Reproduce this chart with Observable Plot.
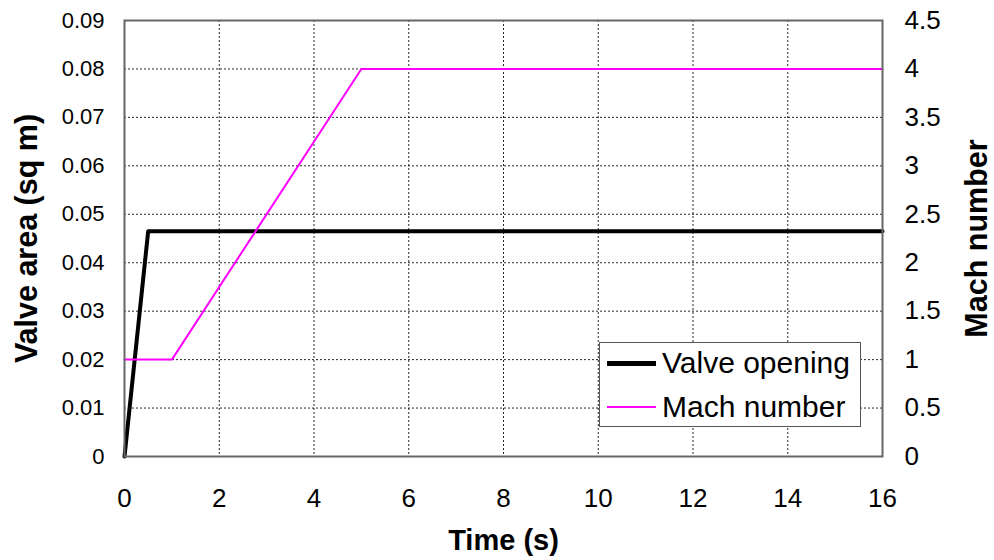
<!DOCTYPE html>
<html>
<head>
<meta charset="utf-8">
<script src="https://cdn.jsdelivr.net/npm/d3@7"></script>
<script src="https://cdn.jsdelivr.net/npm/@observablehq/plot@0.6"></script>
<style>
  body { margin: 0; background: #fff; }
  #wrap { position: relative; width: 994px; height: 560px; font-family: "Liberation Sans", Arial, sans-serif; }
  #legend { position: absolute; left: 599px; top: 342px; width: 262px; height: 85px; border: 1.5px solid #555; background: #fff; box-sizing: border-box; }
  .item { position: absolute; left: 7px; height: 34px; line-height: 34px; display: flex; align-items: center; font-size: 30px; color: #000; white-space: nowrap; }
  .sw { width: 49px; margin-right: 6px; }
</style>
</head>
<body>
<div id="wrap"></div>
<script>
const valveTime = [0, 0.5, 16];
const valveArea = [0, 0.0465, 0.0465];
const machTime = [0, 1, 5, 16];
const machNumber = [1, 1, 4, 4];
const xTicks = [0, 2, 4, 6, 8, 10, 12, 14, 16];
const yTicks = [0, 0.01, 0.02, 0.03, 0.04, 0.05, 0.06, 0.07, 0.08, 0.09];
const yTickLabels = ["0", "0.01", "0.02", "0.03", "0.04", "0.05", "0.06", "0.07", "0.08", "0.09"];
const machTicks = [0, 0.5, 1, 1.5, 2, 2.5, 3, 3.5, 4, 4.5];
const machScale = 0.02; // Mach 4.5 on right axis = 0.09 on left axis

const valve = valveTime.map((t, i) => ({t, v: valveArea[i]}));
const mach = machTime.map((t, i) => ({t, v: machNumber[i] * machScale}));

const chart = Plot.plot({
  width: 994,
  height: 560,
  marginLeft: 124,
  marginRight: 112,
  marginTop: 20,
  marginBottom: 104,
  style: {fontFamily: "'Liberation Sans', Arial, sans-serif", fontSize: "20px", color: "#000", background: "#fff"},
  x: {domain: [0, 16], axis: null},
  y: {domain: [0, 0.09], axis: null},
  marks: [
    Plot.gridX(xTicks, {stroke: "#000", strokeOpacity: 0.85, strokeDasharray: "2,2"}),
    Plot.gridY(yTicks, {stroke: "#000", strokeOpacity: 0.85, strokeDasharray: "2,2"}),
    // tick labels drawn through the scales
    Plot.text(xTicks, {x: d => d, text: d => String(d), frameAnchor: "bottom", dy: 42, fontSize: 26, lineAnchor: "middle", textAnchor: "middle"}),
    Plot.text(yTicks, {y: d => d, text: (d, i) => yTickLabels[i], frameAnchor: "left", dx: -20, fontSize: 22, textAnchor: "end", lineAnchor: "middle"}),
    Plot.text(machTicks, {y: d => d * machScale, text: d => String(d), frameAnchor: "right", dx: 22, fontSize: 26, textAnchor: "start", lineAnchor: "middle"}),
    Plot.line(valve, {x: "t", y: "v", stroke: "#000", strokeWidth: 4}),
    Plot.line(mach, {x: "t", y: "v", stroke: "#ff00ff", strokeWidth: 2}),
    Plot.frame({stroke: "#666", strokeWidth: 2}),
    Plot.text(["Time (s)"], {frameAnchor: "bottom", dy: 84, fontWeight: "bold", fontSize: 29, lineAnchor: "middle", textAnchor: "middle"}),
    Plot.text(["Valve area (sq m)"], {frameAnchor: "left", dx: -97, rotate: -90, fontWeight: "bold", fontSize: 30.5, lineAnchor: "middle", textAnchor: "middle"}),
    Plot.text(["Mach number"], {frameAnchor: "right", dx: 95, rotate: -90, fontWeight: "bold", fontSize: 30.5, lineAnchor: "middle", textAnchor: "middle"})
  ]
});
const wrap = document.getElementById("wrap");
wrap.appendChild(chart);

const legend = document.createElement("div");
legend.id = "legend";
const items = [
  {label: "Valve opening", color: "#000", w: 5, center: 20},
  {label: "Mach number", color: "#ff00ff", w: 2, center: 64}
];
for (const it of items) {
  const d = document.createElement("div");
  d.className = "item";
  d.style.top = (it.center - 17) + "px";
  const sw = document.createElement("div");
  sw.className = "sw";
  sw.style.borderTop = it.w + "px solid " + it.color;
  const sp = document.createElement("span");
  sp.textContent = it.label;
  d.appendChild(sw);
  d.appendChild(sp);
  legend.appendChild(d);
}
wrap.appendChild(legend);
</script>
</body>
</html>
